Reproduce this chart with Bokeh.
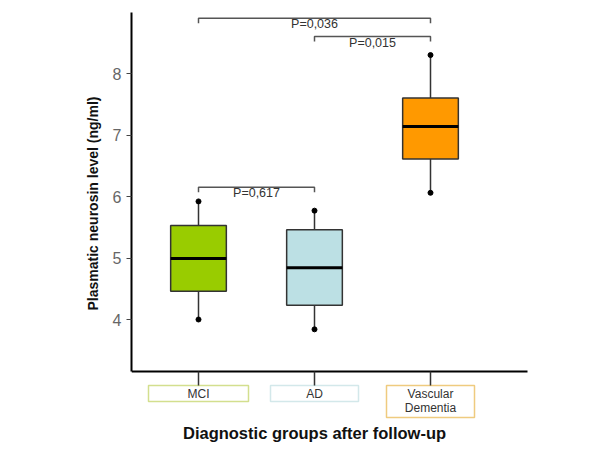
import numpy as np
from bokeh.plotting import figure
from bokeh.models import FixedTicker, Range1d, Label, Title
from bokeh.embed import file_html
from bokeh.resources import INLINE
from bokeh.core.properties import value

# ---------------- data ----------------
categories = ["MCI", "AD", "Vascular\nDementia"]
whisker_low = [4.00, 3.84, 6.06]
q1 = [4.46, 4.23, 6.61]
median = [4.99, 4.84, 7.14]
q3 = [5.53, 5.46, 7.60]
whisker_high = [5.92, 5.77, 8.30]
y_ticks = [4, 5, 6, 7, 8]

comp_from = [0, 1, 0]
comp_to = [2, 2, 1]
p_labels = ["P=0,036", "P=0,015", "P=0,617"]
bracket_levels = [8.90, 8.60, 6.15]

x_title = "Diagnostic groups after follow-up"
y_title = "Plasmatic neurosin level (ng/ml)"

# ---------------- style ----------------
box_colors = ["#99CC00", "#BCE0E4", "#FF9900"]
label_border_colors = ["#D3DF8E", "#D3E8EA", "#EFCB7F"]
label_box_widths = [100, 88, 88]
FONT = "Liberation Sans"

x = np.arange(1, len(categories) + 1)
n_lines = [c.count("\n") + 1 for c in categories]

FRAME_W, FRAME_H = 461, 430
px_x = 116.0     # pixels per category unit
px_y = 61.5      # pixels per y unit
x_start = 1 - 67 / px_x
x_end = x_start + FRAME_W / px_x
y_end = 4 + 307 / px_y
y_start = y_end - FRAME_H / px_y
axis_y = 4 - 52 / px_y
axis_x_end = 1 + 329 / px_x

p = figure(frame_width=FRAME_W, frame_height=FRAME_H,
           x_range=Range1d(x_start, x_end), y_range=Range1d(y_start, y_end),
           output_backend="svg", toolbar_location=None,
           min_border_left=131, min_border_top=12,
           min_border_right=0, min_border_bottom=0)
p.outline_line_color = None
p.xgrid.visible = False
p.ygrid.visible = False
p.background_fill_color = "white"
p.border_fill_color = "white"

# y axis
ya = p.yaxis[0]
ya.ticker = FixedTicker(ticks=y_ticks)
ya.bounds = (axis_y, y_end)
ya.axis_line_color = "black"
ya.axis_line_width = 2
ya.major_tick_out = 5
ya.major_tick_in = 0
ya.major_tick_line_color = "#444"
ya.minor_tick_line_color = None
ya.major_label_standoff = 5
ya.major_label_text_font = FONT
ya.major_label_text_font_size = "16px"
ya.major_label_text_color = "#666"

# y title: placed beside the axis, starting 132px above the frame bottom
p.add_layout(Title(text=y_title, align="left", offset=132,
                   vertical_align="bottom", standoff=18,
                   text_font=FONT, text_font_style="bold",
                   text_font_size="14px", text_color="#111"), "left")

# x axis
xa = p.xaxis[0]
xa.fixed_location = axis_y
xa.bounds = (x_start, axis_x_end)
xa.ticker = FixedTicker(ticks=list(x))
xa.major_label_overrides = {int(xi): c for xi, c in zip(x, categories)}
xa.axis_line_color = "black"
xa.axis_line_width = 2
xa.major_tick_out = 14
xa.major_tick_in = 0
xa.major_tick_line_color = "#333"
xa.major_tick_line_width = 1.5
xa.minor_tick_line_color = None
xa.major_label_standoff = 1
xa.major_label_text_font = FONT
xa.major_label_text_font_size = "12px"
xa.major_label_text_line_height = 1.05
xa.major_label_text_color = "#333"

# label boxes under x axis
box_h = [16 * n for n in n_lines]
box_yc = [axis_y - (14 + h / 2) / px_y for h in box_h]
p.rect(x=x, y=box_yc, width=label_box_widths, height=box_h,
       width_units="screen", height_units="screen",
       fill_color="white", line_color=label_border_colors, line_width=1.5)

# whiskers
p.segment(x0=x, y0=q3, x1=x, y1=whisker_high, line_color="#333", line_width=1.5)
p.segment(x0=x, y0=whisker_low, x1=x, y1=q1, line_color="#333", line_width=1.5)
p.scatter(x=x, y=whisker_high, size=5, color="black")
p.scatter(x=x, y=whisker_low, size=5, color="black")

# boxes
bw = 0.48
p.vbar(x=x, bottom=q1, top=q3, width=bw, fill_color=box_colors,
       line_color="#333", line_width=1.5)
p.segment(x0=x - bw / 2, y0=median, x1=x + bw / 2, y1=median,
          line_color="black", line_width=3)

# significance brackets
hook = 5 / px_y
xs, ys, tx = [], [], []
for a, b, lvl in zip(comp_from, comp_to, bracket_levels):
    xa_, xb_ = x[a], x[b]
    xs.append([xa_, xa_, xb_, xb_])
    ys.append([lvl - hook, lvl, lvl, lvl - hook])
    tx.append((xa_ + xb_) / 2)
p.multi_line(xs=xs, ys=ys, line_color="#555", line_width=1.5)
p.text(x=tx, y=bracket_levels, text=p_labels, text_align="center",
       text_baseline="top", text_font=value(FONT), text_font_size="12.5px",
       text_color="#333", y_offset=-1)

# x title
p.add_layout(Label(x=float(np.mean(x)), y=y_start + 10 / px_y, text=x_title,
                   text_align="center", text_baseline="middle",
                   text_font=FONT, text_font_style="bold",
                   text_font_size="16.5px", text_color="#111"))

open("out.html", "w").write(file_html(p, INLINE))
